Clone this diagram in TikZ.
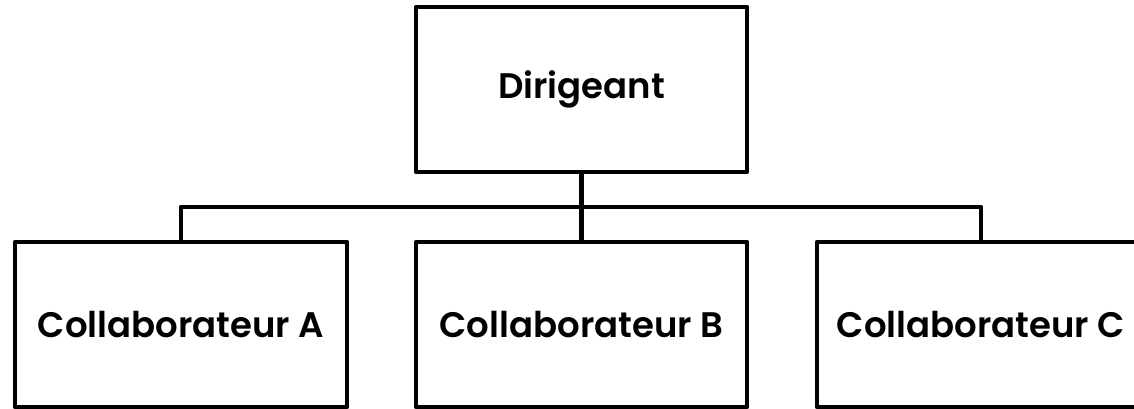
\documentclass[tikz,border=0pt]{standalone}
\usepackage{fontspec}
\setmainfont{Poppins}[UprightFont=* SemiBold, BoldFont=* Bold]
\begin{document}
\begin{tikzpicture}[x=1pt,y=-1pt,
  orgbox/.style={draw=black, line width=4.5pt, line join=round, fill=white,
    minimum height=165pt, inner sep=0pt, font=\fontsize{35.5}{42}\selectfont},
  link/.style={draw=black, line width=4.5pt, line join=round}]
  \useasboundingbox (0,0) rectangle (1134,408);
  \clip (0,0) rectangle (1134,408);
  \coordinate (bus) at (0,207);
  \node[orgbox, minimum width=331pt] (top) at (581.5,89.5) {Dirigeant};
  \node[orgbox, minimum width=332pt] (A) at (181,324.5) {Collaborateur A};
  \node[orgbox, minimum width=331pt] (B) at (581.5,324.5) {Collaborateur B};
  \node[orgbox, minimum width=328pt] (C) at (981,324.5) {Collaborateur C};
  \draw[link] (top.south) -- (B.north);
  \draw[link] (A.north) -- (A.north |- bus) -- (C.north |- bus) -- (C.north);
\end{tikzpicture}
\end{document}
